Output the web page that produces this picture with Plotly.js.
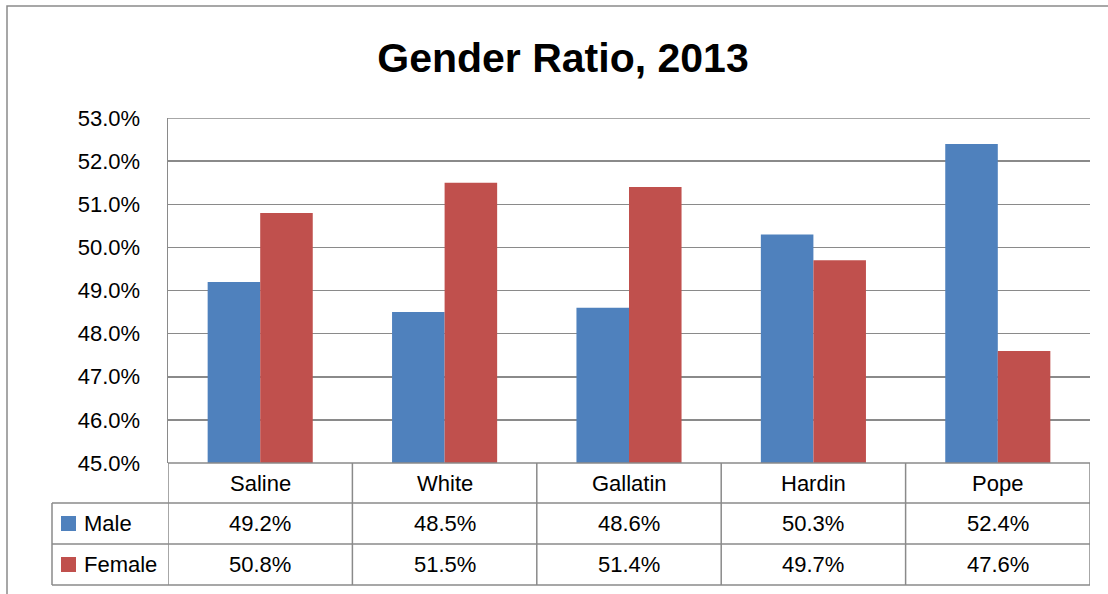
<!DOCTYPE html>
<html>
<head>
<meta charset="utf-8">
<script src="https://cdn.plot.ly/plotly-3.0.1.min.js"></script>
<style>html,body{margin:0;padding:0;background:#fff}#chart{width:1108px;height:594px}</style>
</head>
<body>
<div id="chart"></div>
<script>
const categories = ["Saline", "White", "Gallatin", "Hardin", "Pope"];
const seriesNames = ["Male", "Female"];
const maleValues = [49.2, 48.5, 48.6, 50.3, 52.4];
const femaleValues = [50.8, 51.5, 51.4, 49.7, 47.6];
const tickValues = [45, 46, 47, 48, 49, 50, 51, 52, 53];
const tickLabels = ["45.0%", "46.0%", "47.0%", "48.0%", "49.0%", "50.0%", "51.0%", "52.0%", "53.0%"];
const seriesColors = ["#4F81BD", "#C0504D"];

const FW = 1108, FH = 594;
const L = 168, R = 1090, T = 118, B = 463;
const W = R - L, H = B - T;
const px = v => (v - L) / W;
const py = v => (B - v) / H;
const FONT = "Liberation Sans, Arial, sans-serif";
const LINE = "#8a8a8a";

const series = [maleValues, femaleValues];
const traces = series.map((vals, i) => ({
  type: "bar",
  name: seriesNames[i],
  x: categories,
  y: vals,
  marker: { color: seriesColors[i], line: { width: 0 } },
  hoverinfo: "x+y+name"
}));

const shapes = [];
const annotations = [];
// outer chart border
shapes.push({ type: "rect", xref: "paper", yref: "paper", x0: px(7), x1: px(1130), y0: py(610), y1: py(6),
  line: { color: LINE, width: 1.5 }, fillcolor: "rgba(0,0,0,0)", layer: "below" });
// top gridline at max tick
shapes.push({ type: "line", xref: "paper", yref: "y", x0: 0, x1: 1, y0: tickValues[tickValues.length - 1], y1: tickValues[tickValues.length - 1],
  line: { color: LINE, width: 1.5 } });

// table rows (pixel row bounds)
const rowTop = [463, 503, 544, 585];
shapes.push({ type: "line", xref: "paper", yref: "paper", x0: px(L), x1: px(R), y0: py(rowTop[0]), y1: py(rowTop[0]), line: { color: LINE, width: 1.5 } });
for (let r = 1; r < rowTop.length; r++) {
  shapes.push({ type: "line", xref: "paper", yref: "paper", x0: px(52), x1: px(R), y0: py(rowTop[r]), y1: py(rowTop[r]), line: { color: LINE, width: 1.5 } });
}
for (let i = 0; i <= categories.length; i++) {
  shapes.push({ type: "line", xref: "x", yref: "paper", x0: i - 0.5, x1: i - 0.5, y0: py(rowTop[3]), y1: py(rowTop[0]), line: { color: LINE, width: 1.5 } });
}
shapes.push({ type: "line", xref: "paper", yref: "paper", x0: px(52), x1: px(52), y0: py(rowTop[3]), y1: py(rowTop[1]), line: { color: LINE, width: 1.5 } });

categories.forEach((c, i) => {
  annotations.push({ xref: "x", yref: "paper", x: i, y: py((rowTop[0] + rowTop[1]) / 2), text: c, showarrow: false,
    xanchor: "center", yanchor: "middle", font: { family: FONT, size: 22, color: "#000" } });
});
series.forEach((vals, s) => {
  const yc = py((rowTop[s + 1] + rowTop[s + 2]) / 2);
  vals.forEach((v, i) => {
    annotations.push({ xref: "x", yref: "paper", x: i, y: yc, text: v.toFixed(1) + "%", showarrow: false,
      xanchor: "center", yanchor: "middle", font: { family: FONT, size: 22, color: "#000" } });
  });
  shapes.push({ type: "rect", xref: "paper", yref: "paper", x0: px(61), x1: px(76), y0: yc - 7.5 / H, y1: yc + 7.5 / H,
    fillcolor: seriesColors[s], line: { width: 0 } });
  annotations.push({ xref: "paper", yref: "paper", x: px(82), y: yc, text: seriesNames[s], showarrow: false,
    xanchor: "left", yanchor: "middle", font: { family: FONT, size: 22, color: "#000" } });
});

const layout = {
  width: FW, height: FH,
  margin: { l: L, r: FW - R, t: T, b: FH - B, pad: 0 },
  paper_bgcolor: "#fff", plot_bgcolor: "#fff",
  title: { text: "<b>Gender Ratio, 2013</b>", x: 563 / FW, xanchor: "center", xref: "container",
    y: 1 - 58 / FH, yanchor: "middle", yref: "container", font: { family: FONT, size: 41, color: "#000" } },
  showlegend: false,
  barmode: "group", bargap: 0.43, bargroupgap: 0,
  xaxis: { type: "category", range: [-0.5, categories.length - 0.5], showticklabels: false, ticks: "",
    showgrid: false, zeroline: false, showline: false, fixedrange: true },
  yaxis: { range: [tickValues[0], tickValues[tickValues.length - 1]], tickvals: tickValues, ticktext: tickLabels, ticks: "",
    showgrid: true, gridcolor: LINE, gridwidth: 1.5, zeroline: false, showline: true, linecolor: LINE, linewidth: 1.5,
    ticklabelstandoff: 22, tickfont: { family: FONT, size: 22, color: "#000" }, fixedrange: true },
  shapes: shapes,
  annotations: annotations
};

Plotly.newPlot("chart", traces, layout, { displayModeBar: false, staticPlot: true });
</script>
</body>
</html>
